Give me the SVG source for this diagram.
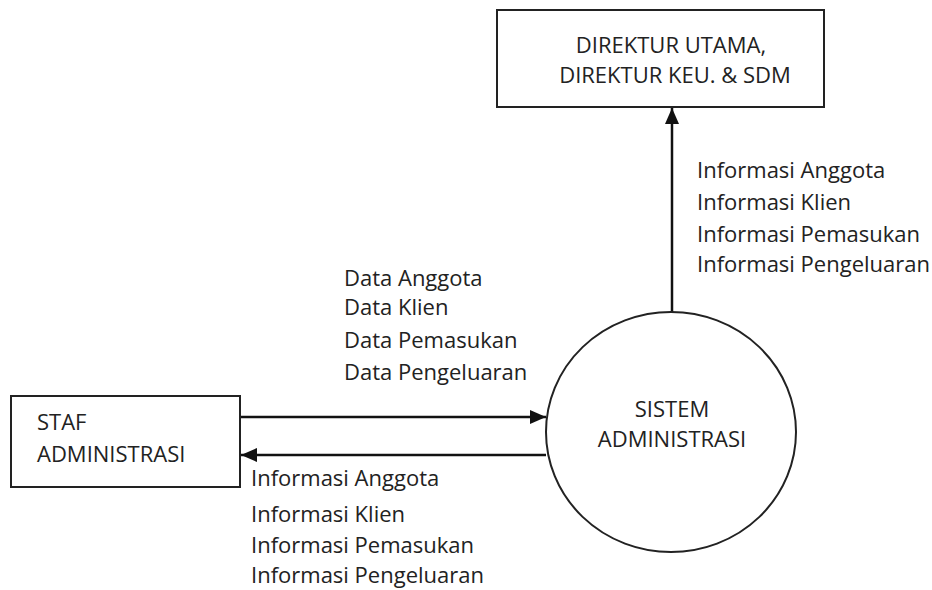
<svg xmlns="http://www.w3.org/2000/svg" width="932" height="590" viewBox="0 0 932 590">
<style>
.box{fill:#fff;stroke:#222;stroke-width:2}
.line{stroke:#111;stroke-width:2.5;fill:none}
text{font-family:"Open Sans","Liberation Sans",sans-serif;font-size:22px;fill:#222}
.c{text-anchor:middle}
</style>
<defs>
<marker id="ah" markerWidth="16" markerHeight="14" refX="16" refY="7" orient="auto" markerUnits="userSpaceOnUse">
<path d="M0,0 L16,7 L0,14 Z" fill="#111"/>
</marker>
</defs>
<rect width="932" height="590" fill="#fff"/>
<g id="connectors">
<line class="line" x1="672" y1="312" x2="672" y2="108" marker-end="url(#ah)"/>
<line class="line" x1="241" y1="417" x2="546" y2="417" marker-end="url(#ah)"/>
<line class="line" x1="546" y1="455" x2="241" y2="455" marker-end="url(#ah)"/>
<g id="label-direktur">
<text x="697" y="178">Informasi Anggota</text>
<text x="697" y="210">Informasi Klien</text>
<text x="697" y="242">Informasi Pemasukan</text>
<text x="697" y="272">Informasi Pengeluaran</text>
</g>
<g id="label-data">
<text x="344" y="286">Data Anggota</text>
<text x="344" y="315">Data Klien</text>
<text x="344" y="348">Data Pemasukan</text>
<text x="344" y="380">Data Pengeluaran</text>
</g>
<g id="label-info">
<text x="251" y="486">Informasi Anggota</text>
<text x="251" y="522">Informasi Klien</text>
<text x="251" y="553">Informasi Pemasukan</text>
<text x="251" y="583">Informasi Pengeluaran</text>
</g>
</g>
<g id="direktur">
<rect class="box" x="497" y="10" width="327" height="97"/>
<text class="c" x="671" y="53">DIREKTUR UTAMA,</text>
<text class="c" x="675" y="83">DIREKTUR KEU. &amp; SDM</text>
</g>
<g id="staf">
<rect class="box" x="11" y="396" width="229" height="91"/>
<text x="37" y="430">STAF</text>
<text x="37" y="462">ADMINISTRASI</text>
</g>
<g id="sistem">
<ellipse class="box" cx="671" cy="432" rx="125" ry="120"/>
<text class="c" x="672" y="417">SISTEM</text>
<text class="c" x="672" y="447">ADMINISTRASI</text>
</g>
</svg>
